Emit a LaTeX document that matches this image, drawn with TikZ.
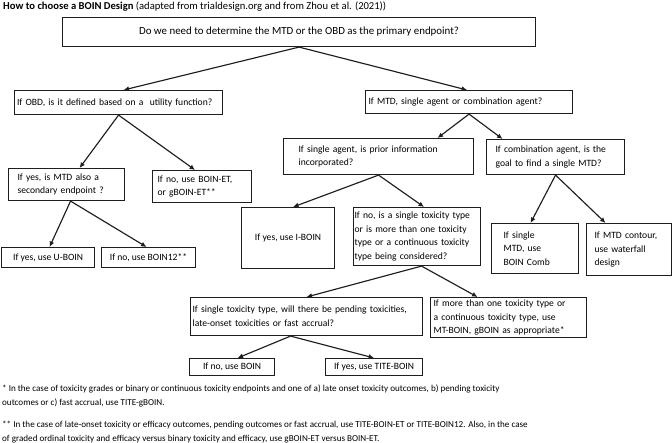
\documentclass[tikz,border=0pt]{standalone}
\usepackage{fontspec}
\setmainfont{Carlito}
\usetikzlibrary{arrows.meta}
\definecolor{ink}{HTML}{1E1E1E}
\tikzset{
  every node/.style={font=\fontsize{9.6bp}{13.7bp}\selectfont, text=black},
  flow/.style={-{Latex[length=5.5bp,width=5bp]}, draw=ink, line width=1.15bp},
  box/.style={rectangle, draw=ink, line width=1.1bp, anchor=north west,
    inner sep=0pt},
  cbox/.style={box, align=center},
  lbox/.style={box, align=left},
  title/.style={font=\fontsize{10.6bp}{12bp}\selectfont, anchor=west,
    inner sep=0pt},
  note/.style={anchor=north west, align=left, inner sep=0pt,
    font=\fontsize{9.1bp}{14bp}\selectfont}
}

\begin{document}
\begin{tikzpicture}[x=1bp,y=-1bp]
  \useasboundingbox (0,0) rectangle (672,443);

  % Heading.
  \node[title] (heading) at (3,7)
    {\textbf{How to choose a BOIN Design} (adapted from trialdesign.org and from Zhou et al. (2021))};

  % Root question.
  \node[cbox, minimum width=473bp, minimum height=29bp,
    font=\fontsize{10.9bp}{13bp}\selectfont] (primary) at (62,17)
    {Do we need to determine the MTD or the OBD as the primary endpoint?};

  % OBD side.
  \node[lbox, minimum width=208bp, minimum height=24bp, text width=203bp]
    (obd) at (14,90) {If OBD, is it defined based on a\ \ utility function?};
  \node[lbox, minimum width=116bp, minimum height=32bp, text width=98bp]
    (secondary) at (8,168) {If yes, is MTD also a\\secondary endpoint ?};
  \node[lbox, minimum width=99bp, minimum height=32bp, text width=89bp]
    (boinet) at (152,170) {If no, use BOIN-ET,\\or gBOIN-ET**};
  \node[cbox, minimum width=93bp, minimum height=20bp]
    (uboin) at (1,247) {If yes, use U-BOIN};
  \node[cbox, minimum width=94bp, minimum height=20bp]
    (bointwelve) at (101,247) {If no, use BOIN12**};

  % MTD side.
  \node[lbox, minimum width=207bp, minimum height=23bp, text width=201bp]
    (mtd) at (365,90) {If MTD, single agent or combination agent?};
  \node[lbox, minimum width=190bp, minimum height=36bp, text width=160bp]
    (single) at (283,138) {If single agent, is prior information\\incorporated?};
  \node[lbox, minimum width=138bp, minimum height=35bp, text width=120bp]
    (combo) at (486,139) {If combination agent, is the\\goal to find a single MTD?};
  \node[cbox, minimum width=93bp, minimum height=61bp]
    (iboin) at (241,207) {If yes, use I-BOIN};
  \node[lbox, minimum width=127bp, minimum height=58bp, text width=125bp]
    (tox) at (353,207) {If no, is a single toxicity type\\or is more than one toxicity\\type or a continuous toxicity\\type being considered?};
  \node[lbox, minimum width=87bp, minimum height=50bp, text width=63bp]
    (singlemtd) at (491,223) {If single\\MTD, use\\BOIN Comb};
  \node[lbox, minimum width=85bp, minimum height=52bp, text width=69bp]
    (contour) at (586,223) {If MTD contour,\\use waterfall\\design};
  \node[lbox, minimum width=232bp, minimum height=38bp, text width=228bp]
    (singletox) at (190,297) {If single toxicity type, will there be pending toxicities,\\late-onset toxicities or fast accrual?};
  \node[lbox, minimum width=156bp, minimum height=40bp, text width=150bp]
    (multitox) at (430,297) {If more than one toxicity type or\\a continuous toxicity type, use\\MT-BOIN, gBOIN as appropriate*};
  \node[cbox, minimum width=85bp, minimum height=17bp]
    (boin) at (189,358) {If no, use BOIN};
  \node[cbox, minimum width=97bp, minimum height=17bp]
    (titeboin) at (325,358) {If yes, use TITE-BOIN};

  % Connectors.
  \draw[flow] (primary.south) -- ([xshift=5bp]obd.north);
  \draw[flow] (primary.south) -- ([xshift=-2bp]mtd.north);
  \draw[flow] (obd.south) -- ([xshift=13bp]secondary.north);
  \draw[flow] (obd.south) -- ([xshift=-7bp]boinet.north);
  \draw[flow] ([xshift=4bp]secondary.south) -- ([xshift=1.5bp]uboin.north);
  \draw[flow] ([xshift=4bp]secondary.south) -- ([xshift=-2bp]bointwelve.north);
  \draw[flow] (mtd.south) -- ([xshift=59bp]single.north);
  \draw[flow] (mtd.south) -- ([xshift=-53bp]combo.north);
  \draw[flow] (single.south) -- ([xshift=5bp]iboin.north);
  \draw[flow] (single.south) -- ([xshift=7bp]tox.north);
  \draw[flow] (combo.south) -- ([xshift=-4.5bp]singlemtd.north);
  \draw[flow] (combo.south) -- ([xshift=-23.5bp]contour.north);
  \draw[flow] ([xshift=4.5bp]tox.south) -- (singletox.north);
  \draw[flow] ([xshift=4.5bp]tox.south) -- ([xshift=-31bp]multitox.north);
  \draw[flow] ([xshift=-16bp]singletox.south) -- ([xshift=5.5bp]boin.north);
  \draw[flow] ([xshift=-16bp]singletox.south) -- (titeboin.north);

  % Footnotes.
  \node[note] (noteone) at (2,385)
    {* In the case of toxicity grades or binary or continuous toxicity endpoints and one of a) late onset toxicity outcomes, b) pending toxicity\\outcomes or c) fast accrual, use TITE-gBOIN.};
  \node[note] (notetwo) at (2,421)
    {** In the case of late-onset toxicity or efficacy outcomes, pending outcomes or fast accrual, use TITE-BOIN-ET or TITE-BOIN12. Also, in the case\\of graded ordinal toxicity and efficacy versus binary toxicity and efficacy, use gBOIN-ET versus BOIN-ET.};
\end{tikzpicture}
\end{document}
